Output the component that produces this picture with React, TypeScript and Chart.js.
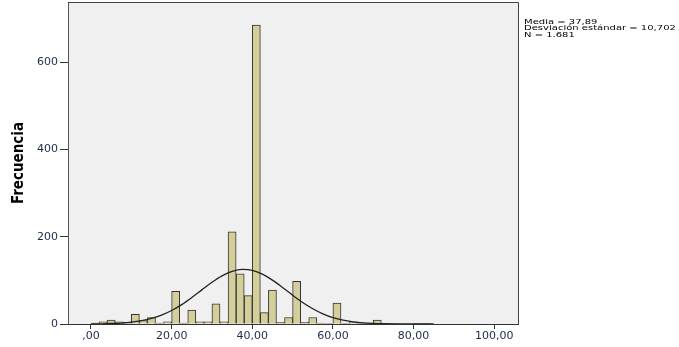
import React, { useEffect, useRef } from "react";
import { Chart, registerables } from "chart.js";

Chart.register(...registerables);

// Histogram bins (width 2), bin centers
const binCenters = [1, 3, 5, 7, 9, 11, 13, 15, 17, 19, 21, 23, 25, 27, 29, 31, 33, 35, 37, 39, 41, 43, 45, 47, 49, 51, 53, 55, 57, 59, 61, 63, 65, 67, 69, 71, 73, 75, 77, 79, 81, 83];
const binCounts = [2, 5, 9, 5, 4, 22, 8, 15, 2, 5, 75, 2, 32, 5, 5, 46, 5, 211, 115, 65, 685, 26, 78, 4, 15, 98, 4, 15, 2, 1, 48, 1, 5, 2, 1, 9, 1, 1, 0, 0, 1, 1];

// Normal curve
const curveX = [0, 2.5, 5, 7.5, 10, 12.5, 15, 17.5, 20, 22.5, 25, 27.5, 30, 32.5, 35, 37.5, 40, 42.5, 45, 47.5, 50, 52.5, 55, 57.5, 60, 62.5, 65, 67.5, 70, 72.5, 75, 77.5, 80, 82.5, 85];
const curveY = [0.2, 0.5, 1.1, 2.2, 4.2, 7.5, 12.7, 20.4, 31, 44.5, 60.7, 78.2, 95.5, 110.4, 120.8, 125.2, 122.9, 114.2, 100.5, 83.7, 66.1, 49.3, 34.9, 23.4, 14.8, 8.9, 5.1, 2.7, 1.4, 0.7, 0.3, 0.1, 0.05, 0, 0];

const xTickValues = [0, 20, 40, 60, 80, 100];
const xTickLabels = [",00", "20,00", "40,00", "60,00", "80,00", "100,00"];
const yTickValues = [0, 200, 400, 600];
const yTickLabels = ["0", "200", "400", "600"];

const statsLines = ["Media = 37,89", "Desviación estándar = 10,702", "N = 1.681"];
const yTitle = "Frecuencia";

const tickColor = "#1e2a4a";

export default function App() {
  const ref = useRef<HTMLCanvasElement | null>(null);

  useEffect(() => {
    const canvas = ref.current;
    if (!canvas) return;

    const framePlugin = {
      id: "frame",
      beforeDraw(chart: any) {
        const { ctx, chartArea } = chart;
        ctx.save();
        ctx.fillStyle = "#F0F0F0";
        ctx.fillRect(chartArea.left, chartArea.top, chartArea.right - chartArea.left, chartArea.bottom - chartArea.top);
        ctx.restore();
      },
      afterDraw(chart: any) {
        const { ctx, chartArea } = chart;
        ctx.save();
        ctx.strokeStyle = "#444";
        ctx.lineWidth = 1;
        ctx.beginPath();
        ctx.moveTo(chartArea.left, chartArea.top + 0.5);
        ctx.lineTo(chartArea.right + 0.5, chartArea.top + 0.5);
        ctx.lineTo(chartArea.right + 0.5, chartArea.bottom);
        ctx.stroke();
        // stats text
        ctx.fillStyle = "#000";
        ctx.font = "10px 'DejaVu Sans'";
        ctx.textBaseline = "alphabetic";
        ctx.textAlign = "left";
        const baselines = [23.5, 30.4, 37.3];
        statsLines.forEach((t, i) => {
          ctx.save();
          ctx.translate(524, baselines[i]);
          ctx.scale(1, 0.72);
          ctx.fillText(t, 0, 0);
          ctx.restore();
        });
        ctx.restore();
      },
    };

    const chart = new Chart(canvas, {
      type: "bar",
      data: {
        datasets: [
          {
            type: "line",
            data: curveX.map((x, i) => ({ x, y: curveY[i] })),
            borderColor: "#222",
            borderWidth: 1.3,
            pointRadius: 0,
            tension: 0.4,
            cubicInterpolationMode: "monotone",
            fill: false,
            order: 0,
          } as any,
          {
            type: "bar",
            data: binCenters.map((x, i) => ({ x, y: binCounts[i] })),
            backgroundColor: "#D4CF9A",
            borderColor: "#333",
            borderWidth: 1,
            barPercentage: 1,
            categoryPercentage: 1,
            grouped: false,
            order: 1,
          } as any,
        ],
      },
      options: {
        responsive: false,
        animation: false,
        devicePixelRatio: 1,
        layout: { padding: { left: 0, top: 2, right: 161, bottom: 0 } },
        plugins: { legend: { display: false }, tooltip: { enabled: false } },
        scales: {
          x: {
            type: "linear",
            offset: false,
            min: -5.7,
            max: 105.9,
            afterBuildTicks: (s: any) => {
              s.ticks = xTickValues.map((v) => ({ value: v }));
            },
            afterFit: (s: any) => {
              s.height = 23;
              s.paddingLeft = 0;
              s.paddingRight = 0;
            },
            ticks: {
              autoSkip: false,
              maxRotation: 0,
              padding: 1,
              color: tickColor,
              font: { family: "'DejaVu Sans'", size: 11 },
              callback: (_v: any, i: number) => xTickLabels[i],
            },
            grid: { offset: false, drawOnChartArea: false, drawTicks: true, tickLength: 5, color: "#333" },
            border: { display: true, color: "#333", width: 1 },
          },
          y: {
            min: 0,
            max: 738,
            afterBuildTicks: (s: any) => {
              s.ticks = yTickValues.map((v) => ({ value: v }));
            },
            afterFit: (s: any) => {
              s.width = 68;
              s.paddingTop = 0;
              s.paddingBottom = 0;
            },
            ticks: {
              autoSkip: false,
              padding: 2,
              color: tickColor,
              font: { family: "'DejaVu Sans'", size: 11 },
              callback: (_v: any, i: number) => yTickLabels[i],
            },
            grid: { drawOnChartArea: false, drawTicks: true, tickLength: 8, color: "#333" },
            border: { display: true, color: "#555", width: 1 },
            title: {
              display: true,
              text: yTitle,
              color: "#000",
              font: { family: "'Liberation Sans Narrow', 'DejaVu Sans Condensed', sans-serif", size: 15, weight: "bold" },
              padding: { top: 10, bottom: 0 },
            },
          },
        },
      } as any,
      plugins: [framePlugin],
    });

    return () => chart.destroy();
  }, []);

  return (
    <div style={{ position: "fixed", left: 0, top: 0, width: 679, height: 347, background: "#fff" }}>
      <canvas ref={ref} width={679} height={347} style={{ width: 679, height: 347, display: "block" }} />
    </div>
  );
}
